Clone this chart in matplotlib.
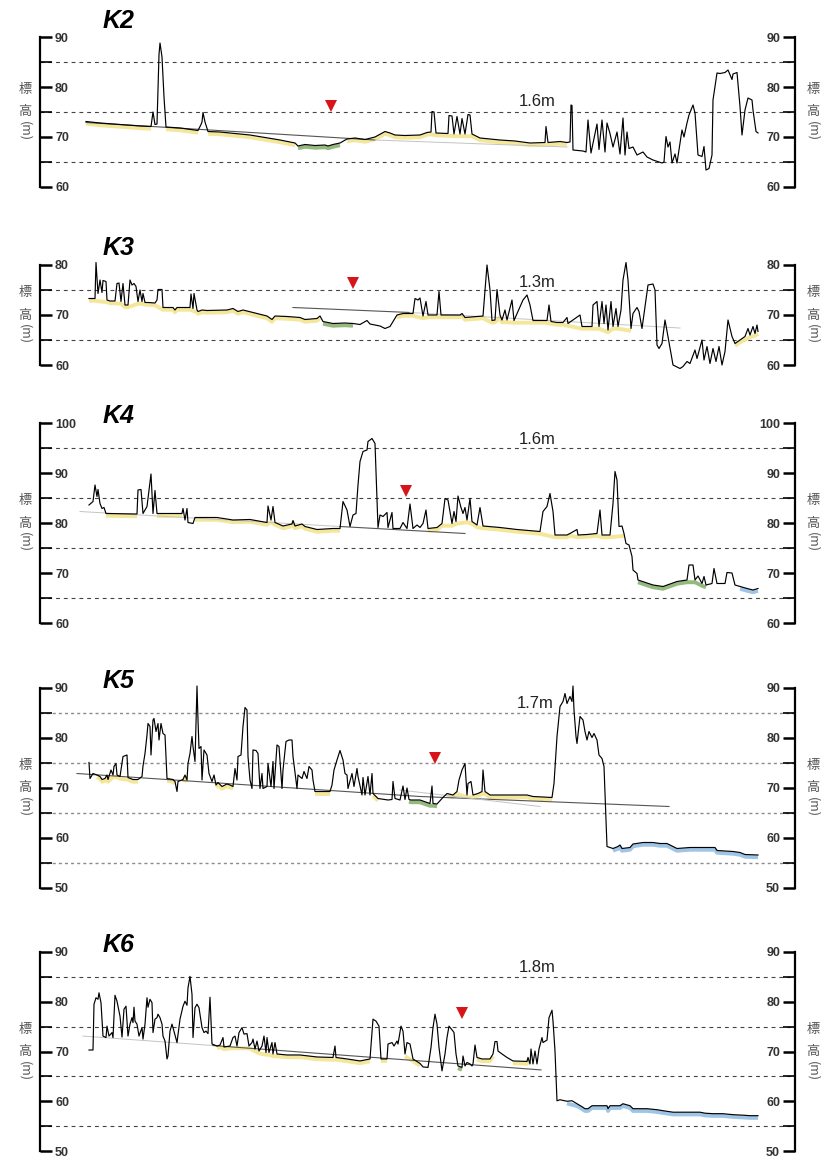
import numpy as np
import matplotlib
matplotlib.use("Agg")
import matplotlib.pyplot as plt

# elevation profiles (distance along section, elevation m)
k2_profile = [(86,73.1),(100,72.8),(120,72.5),(140,72.2),(151,72.1),(153,75.0),(155,72.5),(157,72.6),(159,86.5),(160,88.8),(162,86),(164,78),(166,72.0),(180,71.8),(198,71.3),(201,72.5),(202,73.0),(203,74.9),(205,73),(208,71.1),(220,71.0),(235,70.7),(250,70.4),(265,69.9),(280,69.4),(290,69.0),(295,68.8),(298,68.2),(305,68.5),(315,68.3),(325,68.4),(328,68.2),(333,68.5),(340,68.8),(347,69.6),(355,69.8),(365,69.5),(375,70.0),(385,71.1),(390,70.8),(395,70.4),(405,70.3),(420,70.4),(427,70.9),(431,71.0),(432,75.1),(434,75.0),(436,70.8),(448,70.7),(449,74.3),(452,74.2),(454,70.6),(457,74.1),(460,70.6),(462,73.7),(465,70.6),(468,74.5),(470,74.4),(472,70.6),(480,69.8),(500,69.4),(515,69.2),(530,68.8),(545,68.9),(546,72.1),(548,68.9),(560,69.1),(567,68.9),(570,69.0),(571,76.4),(572,76.3),(573,67.4),(583,67.2),(586,67.0),(588,73.4),(591,66.8),(597,72.6),(599,67.5),(602,73.4),(605,67.0),(607,72.8),(610,70.7),(613,68.0),(617,71.0),(620,66.6),(623,73.8),(625,66.4),(627,71.0),(629,67.7),(633,68.0),(637,66.4),(643,67.0),(647,66.0),(653,65.4),(662,64.8),(664,65.0),(666,70.1),(668,68.0),(670,69.0),(672,64.8),(675,66.6),(677,64.8),(682,71.4),(684,70.0),(687,72.8),(689,74.4),(693,76.4),(695,74.8),(698,66.4),(702,66.1),(704,68.1),(706,63.4),(709,63.7),(712,66.4),(713,77.4),(717,82.8),(720,82.7),(725,82.9),(728,83.4),(732,81.5),(733,82.6),(737,82.9),(740,76.1),(742,70.4),(745,75.4),(748,77.8),(752,77.4),(753,75.4),(756,71.1),(758,70.8)]

k3_profile = [(89,73.3),(95,73.3),(96,80.5),(98,74.3),(100,77.0),(102,74.5),(103,76.9),(106,76.7),(107,73.0),(110,72.8),(115,72.8),(117,76.3),(119,76.4),(121,72.7),(123,76.3),(125,72.0),(128,72.0),(130,77.0),(132,76.0),(134,76.3),(136,75.7),(138,72.7),(140,75.0),(142,72.7),(143,74.3),(145,72.5),(148,72.5),(155,72.4),(157,73.0),(158,75.1),(162,75.1),(163,71.5),(173,71.5),(175,71.0),(177,71.5),(190,71.5),(191,74.2),(193,71.3),(194,74.3),(197,71.0),(198,70.7),(202,71.0),(207,70.9),(227,71.0),(233,71.3),(238,70.7),(243,71.0),(253,70.5),(267,69.8),(272,69.1),(275,69.8),(287,69.7),(300,69.5),(305,69.1),(317,69.3),(320,69.8),(323,68.7),(333,68.3),(345,68.4),(353,68.3),(360,68.1),(367,68.9),(370,68.2),(380,67.8),(385,67.3),(390,67.7),(397,70.0),(403,70.3),(413,70.3),(415,73.3),(418,73.0),(420,73.4),(423,69.8),(426,72.7),(428,70.0),(437,70.0),(439,74.7),(441,70.0),(450,70.0),(460,70.0),(462,70.3),(465,69.5),(483,69.8),(487,80.0),(490,75.0),(492,68.9),(495,69.0),(497,75.1),(500,70.0),(502,69.0),(505,71.0),(507,69.0),(512,73.0),(514,68.9),(523,73.0),(527,74.0),(530,72.0),(533,68.9),(547,68.9),(549,72.0),(551,68.7),(557,68.5),(563,68.5),(567,69.5),(568,68.3),(580,70.0),(582,67.7),(592,67.7),(593,72.0),(597,72.7),(599,67.7),(602,72.7),(604,68.3),(606,72.0),(608,67.0),(611,72.7),(613,67.7),(616,71.3),(618,67.7),(621,71.0),(623,77.0),(626,80.5),(628,77.0),(631,67.3),(633,70.3),(637,71.5),(639,70.7),(642,67.3),(645,71.7),(648,76.0),(653,76.2),(655,75.0),(657,64.0),(659,63.3),(662,64.3),(665,69.0),(668,65.7),(671,62.3),(673,60.0),(680,59.3),(683,59.7),(687,60.7),(690,60.3),(695,63.0),(697,61.3),(702,65.0),(704,61.0),(707,63.7),(710,60.3),(713,63.3),(716,60.7),(719,63.7),(722,60.0),(725,62.7),(728,69.0),(732,65.7),(735,64.3),(740,65.0),(745,65.7),(748,67.3),(750,66.0),(753,67.7),(755,66.3),(757,68.0),(758,66.7)]

k4_profile = [(89,83.6),(93,84.3),(95,87.6),(97,85.3),(98,86.7),(100,83.9),(102,82.9),(104,83.1),(106,81.9),(137,81.8),(138,86.6),(141,86.7),(143,81.9),(147,83.3),(151,89.8),(153,81.9),(155,86.5),(157,81.9),(182,81.9),(183,82.9),(185,80.6),(187,82.9),(188,80.1),(193,79.9),(195,81.1),(217,81.1),(233,80.6),(250,80.7),(267,80.1),(268,83.4),(271,80.6),(273,83.3),(275,80.1),(283,79.4),(292,79.8),(293,80.5),(295,79.4),(302,79.8),(305,79.3),(317,78.7),(333,78.9),(340,78.9),(342,82.6),(343,84.3),(347,82.6),(350,79.3),(353,81.6),(356,81.9),(358,87.6),(360,92.3),(363,94.3),(367,94.6),(368,96.3),(372,96.9),(375,95.9),(378,79.1),(380,81.6),(383,81.3),(387,82.1),(388,79.1),(392,82.1),(393,78.9),(400,78.9),(403,80.1),(407,78.9),(410,83.8),(413,78.9),(417,79.6),(420,79.1),(423,79.9),(426,82.6),(428,78.9),(437,79.1),(442,79.9),(445,84.9),(448,84.6),(452,79.9),(454,82.3),(456,80.3),(458,85.4),(461,83.1),(463,81.9),(465,83.1),(467,80.6),(470,84.9),(472,80.3),(477,79.6),(480,83.1),(483,79.4),(500,79.1),(517,78.7),(540,78.3),(543,82.3),(547,83.3),(550,85.9),(553,82.3),(555,77.6),(567,77.6),(570,77.9),(577,78.7),(578,77.6),(587,77.7),(597,77.9),(600,82.6),(602,77.6),(610,77.6),(613,83.9),(615,90.3),(617,88.6),(619,79.3),(622,79.4),(624,77.9),(626,75.9),(629,75.6),(632,73.3),(633,70.6),(637,69.9),(638,68.6),(653,67.6),(663,67.3),(677,68.3),(687,68.6),(689,71.6),(693,71.6),(695,68.6),(698,69.4),(702,67.9),(704,69.3),(706,67.6),(712,67.9),(714,70.9),(717,67.9),(725,67.9),(727,70.1),(732,70.0),(735,67.6),(740,67.3),(747,66.9),(753,66.6),(758,66.9)]

k5_profile = [(89,75.1),(90,71.9),(93,72.9),(97,72.6),(100,72.3),(102,71.7),(105,71.9),(107,72.6),(108,71.7),(111,73.6),(113,72.6),(114,74.3),(116,74.9),(117,72.6),(120,72.3),(123,76.3),(127,76.6),(128,72.1),(133,71.7),(138,71.7),(142,72.3),(143,74.4),(145,76.9),(147,80.6),(148,82.9),(150,82.3),(151,76.6),(153,83.6),(154,83.9),(156,81.3),(158,82.9),(159,79.6),(161,82.9),(163,80.9),(165,80.6),(167,71.9),(173,71.7),(175,71.3),(177,69.3),(178,71.3),(183,71.7),(185,72.6),(187,71.6),(188,74.9),(190,76.9),(192,80.3),(193,78.3),(195,75.3),(197,90.4),(198,83.6),(199,77.9),(201,78.3),(202,71.6),(204,77.6),(207,76.6),(209,72.9),(212,71.3),(214,72.6),(216,70.6),(218,71.1),(222,70.3),(227,70.8),(230,70.6),(233,70.3),(235,73.9),(237,71.6),(238,76.3),(241,76.6),(243,82.3),(245,86.1),(247,85.6),(248,76.3),(250,71.6),(252,69.9),(253,77.6),(256,77.5),(258,76.9),(260,69.9),(262,72.9),(263,69.9),(267,70.3),(268,74.9),(271,70.3),(273,75.3),(274,69.9),(277,78.6),(279,78.3),(282,69.9),(283,73.6),(286,79.3),(289,79.6),(292,79.6),(293,76.3),(297,69.9),(298,72.6),(302,71.9),(304,73.3),(307,71.9),(309,74.3),(312,73.6),(313,71.6),(315,69.3),(330,69.3),(332,70.6),(334,73.6),(337,75.6),(340,77.5),(343,75.6),(345,72.9),(347,72.6),(348,69.9),(352,72.9),(354,70.3),(357,73.9),(358,72.3),(362,68.6),(363,72.1),(365,68.6),(368,72.3),(370,68.6),(372,72.9),(373,68.9),(378,67.9),(388,67.6),(392,67.7),(393,71.3),(395,67.9),(400,67.6),(403,70.4),(405,67.7),(407,70.0),(409,67.7),(411,67.6),(420,67.6),(430,66.9),(432,70.4),(433,66.9),(437,66.8),(442,67.9),(447,68.9),(453,68.6),(457,69.3),(459,71.6),(462,73.6),(465,74.9),(467,68.6),(468,70.9),(471,71.3),(473,68.6),(478,68.9),(482,69.3),(483,73.6),(485,69.3),(490,68.6),(500,68.6),(527,68.6),(533,68.3),(552,68.1),(554,70.9),(557,80.3),(560,86.3),(563,87.3),(565,88.9),(567,86.9),(570,88.3),(572,87.3),(573,90.4),(574,85.6),(576,80.3),(577,78.9),(580,84.3),(583,83.6),(585,81.3),(587,79.6),(589,81.3),(592,80.1),(594,80.9),(597,79.6),(599,76.6),(602,75.9),(604,74.3),(605,68.9),(606,63.6),(607,58.3),(613,57.9),(618,58.3),(620,58.6),(622,57.9),(630,58.1),(633,58.8),(643,59.1),(653,59.1),(660,58.9),(667,58.9),(673,58.3),(677,57.9),(690,58.1),(700,58.1),(715,58.1),(717,57.5),(733,57.3),(740,57.1),(745,56.7),(758,56.6)]

k6_profile = [(89,70.3),(93,70.3),(94,79.5),(96,80.8),(98,80.5),(99,81.8),(101,79.8),(103,73.1),(106,72.8),(107,75.1),(109,73.1),(112,73.8),(113,72.8),(115,81.3),(117,80.1),(120,77.1),(122,72.9),(124,78.5),(126,79.1),(128,73.1),(130,75.5),(132,76.8),(133,75.8),(134,78.9),(135,76.1),(137,75.5),(139,73.1),(142,74.8),(143,72.5),(145,75.5),(147,80.8),(148,78.9),(150,80.5),(152,79.8),(153,73.8),(155,76.5),(157,76.8),(158,77.5),(160,76.8),(162,75.5),(163,73.1),(165,72.1),(167,68.5),(168,69.1),(170,74.1),(172,75.5),(173,74.8),(177,71.8),(180,76.5),(183,79.1),(185,80.1),(187,79.3),(188,82.8),(190,85.1),(192,81.5),(193,72.8),(195,78.8),(197,79.5),(199,78.8),(202,74.8),(204,73.8),(206,74.1),(208,73.6),(210,80.9),(212,71.5),(217,71.1),(220,71.3),(223,72.8),(224,70.9),(230,71.1),(233,72.8),(235,73.1),(237,71.1),(239,73.8),(242,74.8),(244,73.5),(247,73.6),(249,71.1),(252,71.8),(253,72.5),(255,70.5),(257,72.1),(259,70.1),(262,71.1),(264,73.1),(266,69.8),(267,72.8),(269,69.8),(272,71.8),(273,69.5),(275,71.8),(277,69.5),(287,69.3),(300,69.3),(317,68.9),(333,68.8),(335,71.1),(336,68.8),(347,68.5),(360,68.1),(370,68.5),(373,76.5),(376,76.1),(379,75.1),(381,68.5),(387,68.5),(388,71.5),(392,71.8),(394,71.1),(397,72.1),(398,71.5),(401,75.1),(403,74.1),(405,69.5),(407,71.8),(410,71.5),(413,68.5),(420,67.6),(423,66.9),(428,66.8),(431,70.8),(433,74.8),(435,77.5),(437,75.5),(439,70.8),(442,66.1),(445,69.5),(447,72.8),(449,75.1),(453,74.1),(454,73.8),(456,69.5),(458,67.1),(462,66.8),(463,69.1),(465,67.1),(467,67.8),(470,67.5),(472,67.1),(473,67.5),(475,71.3),(477,68.8),(482,68.5),(490,68.5),(493,69.5),(495,72.0),(497,72.0),(498,70.1),(502,69.5),(507,68.8),(513,68.1),(527,68.0),(528,68.8),(530,67.5),(531,70.5),(533,67.5),(535,70.1),(537,67.5),(539,70.5),(542,72.8),(543,71.8),(547,72.3),(549,76.8),(552,78.3),(553,76.1),(555,70.1),(557,60.1),(560,60.3),(567,60.0),(572,60.1),(577,59.5),(582,58.9),(585,58.5),(588,58.5),(592,59.1),(600,59.1),(607,59.1),(608,58.5),(610,59.1),(620,59.1),(623,59.5),(630,59.1),(633,58.5),(647,58.5),(657,58.3),(663,58.1),(673,57.8),(683,57.8),(700,57.8),(705,57.6),(713,57.5),(723,57.5),(733,57.3),(743,57.2),(750,57.1),(758,57.1)]

# coloured ground bands: (from, to, kind)
k2_bands = [(86,151,"y"),(166,200,"y"),(208,295,"y"),(296,340,"g"),(343,567,"y")]
k3_bands = [(89,320,"y"),(323,355,"g"),(397,633,"y"),(673,686,"g"),(719,720,"g"),(735,758,"y")]
k4_bands = [(104,138,"y"),(157,182,"y"),(195,340,"y"),(428,624,"y"),(637,706,"g"),(740,758,"b")]
k5_bands = [(97,138,"y"),(167,175,"y"),(179,187,"y"),(213,233,"y"),(313,332,"y"),(373,380,"y"),(409,437,"g"),(445,553,"y"),(612,758,"b")]
k6_bands = [(213,373,"y"),(381,394,"y"),(405,420,"y"),(456,462,"g"),(475,493,"y"),(510,528,"y"),(563,758,"b")]

# straight reference lines: list of polylines, dark flag
k2_trend = [([86,375],[72.9,69.4],True),([375,567],[69.4,68.0],False)]
k3_trend = [([293,410],[71.5,70.5],True),([410,680],[70.5,67.4],False)]
k4_trend = [([80,340],[82.3,79.3],False),([340,465],[79.3,77.9],True)]
k5_trend = [([77,420,669],[72.9,68.3,66.3],True),([400,540],[69.6,66.3],False)]
k6_trend = [([83,213],[73.1,71.2],False),([213,541],[71.2,66.3],True)]

# red marker and depth label per section
names = ["K2","K3","K4","K5","K6"]
marker_pos = [(331,76.2),(353,76.3),(406,86.5),(435,76.1),(462,77.8)]
depth_text = ["1.6m","1.3m","1.6m","1.7m","1.8m"]
depth_pos = [(537,77.2),(537,76.5),(537,96.6),(535,86.8),(537,86.8)]
ylims = [(60,90),(60,80),(60,100),(50,90),(50,90)]

profiles = [k2_profile,k3_profile,k4_profile,k5_profile,k6_profile]
bands = [k2_bands,k3_bands,k4_bands,k5_bands,k6_bands]
trends = [k2_trend,k3_trend,k4_trend,k5_trend,k6_trend]

band_colors = {"y": "#f4e79a", "g": "#93b97c", "b": "#9fc5e6"}

W, H = 821, 1159
fig = plt.figure(figsize=(W/100, H/100), dpi=100)

# axes frames in pixels: (top, bottom)
frames = [(37,187),(265,365),(423,623),(688,888),(952,1151)]
x_left, x_right = 40, 795

num_font = "Liberation Sans"
jp_font = ["Noto Sans CJK JP", "DejaVu Sans"]


def ground_band(x, y, lo, hi):
    # keep only points close to the local floor so spikes are skipped
    m = (x >= lo) & (x <= hi)
    xs, ys = x[m], y[m]
    keep = np.array([ys[i] - ys[np.abs(xs - xs[i]) <= 11].min() < 1.1 for i in range(len(xs))], dtype=bool)
    return xs[keep], ys[keep]


for i, name in enumerate(names):
    top, bot = frames[i]
    ax = fig.add_axes([x_left/W, 1 - bot/H, (x_right - x_left)/W, (bot - top)/H])
    y0, y1 = ylims[i]
    ax.set_xlim(x_left, x_right)
    ax.set_ylim(y0, y1)

    major = np.arange(y0, y1 + 1, 10)
    minor = np.arange(y0 + 5, y1, 10)
    ax.set_yticks(major)
    ax.set_yticks(minor, minor=True)
    ax.set_xticks([])

    for s in ["top", "bottom"]:
        ax.spines[s].set_visible(False)
    for s in ["left", "right"]:
        ax.spines[s].set_linewidth(1.6)

    ax.tick_params(axis="y", which="major", direction="in", length=8.6, width=1.8,
                   left=True, right=True, labelleft=True, labelright=True,
                   pad=-10.8, labelsize=9, labelcolor="#333")
    ax.tick_params(axis="y", which="minor", direction="in", length=8.6, width=1.2,
                   left=True, right=True)
    for t in ax.yaxis.get_major_ticks():
        t.label1.set_horizontalalignment("left")
        t.label2.set_horizontalalignment("right")
        for lab in (t.label1, t.label2):
            lab.set_fontfamily(num_font)
            lab.set_fontweight("bold")

    # dashed guide lines at the half levels
    if name == "K5":
        gl = dict(color="#8c8c8c", lw=1.0, ls=(0, (2.2, 2.2)))
    else:
        gl = dict(color="#444444", lw=0.8, ls=(0, (3.5, 3.5)))
    for v in minor:
        ax.axhline(v, zorder=1, **gl)

    prof = np.array(profiles[i], dtype=float)
    px, py = prof[:, 0], prof[:, 1]

    for lo, hi, kind in bands[i]:
        bx, by = ground_band(px, py, lo, hi)
        ax.plot(bx, by - 0.45, color=band_colors[kind], lw=2.8,
                solid_capstyle="butt", solid_joinstyle="round", zorder=2)

    for tx, ty, dark in trends[i]:
        ax.plot(tx, ty, color="#555555" if dark else "#c4c4c4",
                lw=0.8 if dark else 0.7, zorder=2.5)

    ax.plot(px, py, color="black", lw=0.85, zorder=3, clip_on=False)

    mx, my = marker_pos[i]
    ax.plot([mx], [my], marker="v", color="#d7141a", markersize=9,
            markeredgewidth=0, zorder=4)

    dx, dy = depth_pos[i]
    ax.text(dx, dy, depth_text[i], ha="center", va="center", fontsize=12,
            family=num_font, color="#222")

    # section name above the frame
    base = top - 9 if name == "K2" else (top - 10 if name == "K3" else top)
    fig.text(103/W, 1 - base/H, name, fontsize=18, fontweight="bold",
             fontstyle="italic", family=num_font, va="baseline", ha="left")

    # vertical axis caption on both sides
    for xa in ((25 - x_left)/(x_right - x_left), (813 - x_left)/(x_right - x_left)):
        ax.annotate("標", xy=(xa, 0.5), xycoords="axes fraction", xytext=(0, 16),
                    textcoords="offset points", ha="center", va="center",
                    fontsize=9.5, color="#555", family=jp_font, annotation_clip=False)
        ax.annotate("高", xy=(xa, 0.5), xycoords="axes fraction", xytext=(0, 0),
                    textcoords="offset points", ha="center", va="center",
                    fontsize=9.5, color="#555", family=jp_font, annotation_clip=False)
        ax.annotate("(m)", xy=(xa, 0.5), xycoords="axes fraction", xytext=(0, -14),
                    textcoords="offset points", ha="center", va="center",
                    rotation=-90, fontsize=9, color="#555", family=jp_font,
                    annotation_clip=False)

fig.savefig("out.png", dpi=100)
